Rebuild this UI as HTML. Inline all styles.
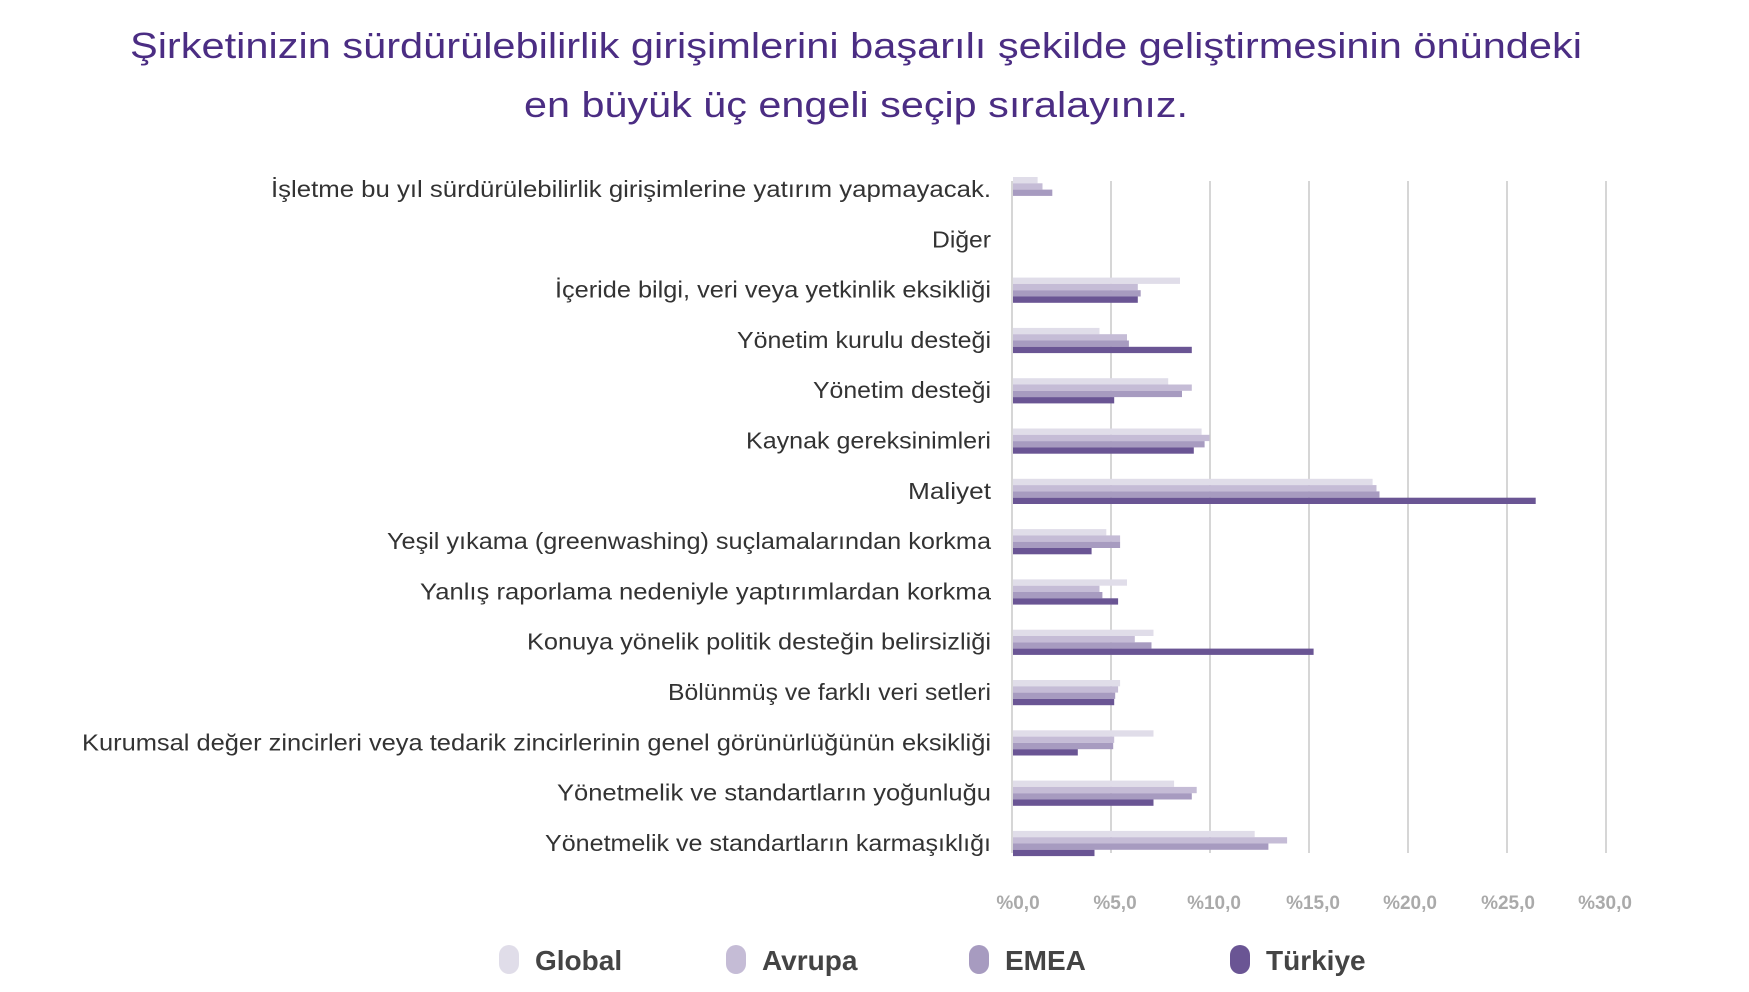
<!DOCTYPE html>
<html><head><meta charset="utf-8"><style>
html,body{margin:0;padding:0;background:#fff;}
svg{display:block;}
</style></head><body>
<svg width="1749" height="992" viewBox="0 0 1749 992" xmlns="http://www.w3.org/2000/svg" font-family="Liberation Sans, DejaVu Sans, sans-serif">
<text x="856" y="58" text-anchor="middle" font-size="36" fill="#4b2d83" textLength="1452" lengthAdjust="spacingAndGlyphs">Şirketinizin sürdürülebilirlik girişimlerini başarılı şekilde geliştirmesinin önündeki</text>
<text x="856" y="117" text-anchor="middle" font-size="36" fill="#4b2d83" textLength="664" lengthAdjust="spacingAndGlyphs">en büyük üç engeli seçip sıralayınız.</text>
<g stroke="#c8c8c8" stroke-width="1.5">
<line x1="1012" y1="181" x2="1012" y2="853"/>
<line x1="1111" y1="181" x2="1111" y2="853"/>
<line x1="1210" y1="181" x2="1210" y2="853"/>
<line x1="1309" y1="181" x2="1309" y2="853"/>
<line x1="1408" y1="181" x2="1408" y2="853"/>
<line x1="1507" y1="181" x2="1507" y2="853"/>
<line x1="1606" y1="181" x2="1606" y2="853"/>
</g>
<g id="bars"></g>
<g font-size="23" fill="#333" text-anchor="end" id="labels"></g>
<g font-size="19" font-weight="bold" fill="#aaa" text-anchor="middle">
<text x="1018" y="909">%0,0</text>
<text x="1115" y="909">%5,0</text>
<text x="1214" y="909">%10,0</text>
<text x="1313" y="909">%15,0</text>
<text x="1410" y="909">%20,0</text>
<text x="1508" y="909">%25,0</text>
<text x="1605" y="909">%30,0</text>
</g>
<g font-size="28" font-weight="bold" fill="#444">
<rect x="499" y="945" width="20" height="29" rx="10" fill="#e0dde9"/><text x="535" y="970">Global</text>
<rect x="726" y="945" width="20" height="29" rx="10" fill="#c5bcd6"/><text x="762" y="970">Avrupa</text>
<rect x="969" y="945" width="20" height="29" rx="10" fill="#a79bc0"/><text x="1005" y="970">EMEA</text>
<rect x="1230" y="945" width="20" height="29" rx="10" fill="#6a5594"/><text x="1266" y="970">Türkiye</text>
</g>
<script>
var d=[["İşletme bu yıl sürdürülebilirlik girişimlerine yatırım yapmayacak.",244,[1.25,1.5,2.0,0]],
["Diğer",834,[0,0,0,0]],
["İçeride bilgi, veri veya yetkinlik eksikliği",497,[8.5,6.35,6.5,6.35]],
["Yönetim kurulu desteği",660,[4.4,5.8,5.9,9.1]],
["Yönetim desteği",728,[7.9,9.1,8.6,5.15]],
["Kaynak gereksinimleri",668,[9.6,10.0,9.75,9.2]],
["Maliyet",813,[18.3,18.5,18.65,26.6]],
["Yeşil yıkama (greenwashing) suçlamalarından korkma",347,[4.75,5.45,5.45,4.0]],
["Yanlış raporlama nedeniyle yaptırımlardan korkma",377,[5.8,4.4,4.55,5.35]],
["Konuya yönelik politik desteğin belirsizliği",472,[7.15,6.2,7.05,15.3]],
["Bölünmüş ve farklı veri setleri",598,[5.45,5.35,5.2,5.15]],
["Kurumsal değer zincirleri veya tedarik zincirlerinin genel görünürlüğünün eksikliği",75,[7.15,5.15,5.1,3.3]],
["Yönetmelik ve standartların yoğunluğu",499,[8.2,9.35,9.1,7.15]],
["Yönetmelik ve standartların karmaşıklığı",488,[12.3,13.95,13.0,4.15]]];
var cols=["#e0dde9","#c5bcd6","#a79bc0","#6a5594"];
var NS="http://www.w3.org/2000/svg",b=document.getElementById("bars"),l=document.getElementById("labels");
d.forEach(function(r,i){var c=189+i*50.3;
 var t=document.createElementNS(NS,"text");t.setAttribute("x",991);t.setAttribute("y",c+8);
 t.setAttribute("textLength",((887-r[1])*1.119).toFixed(0));t.setAttribute("lengthAdjust","spacingAndGlyphs");
 t.textContent=r[0];l.appendChild(t);
 r[2].forEach(function(v,j){if(v<=0)return;var e=document.createElementNS(NS,"rect");
  e.setAttribute("x",1013);e.setAttribute("y",(c-12+j*6.3).toFixed(1));e.setAttribute("width",(v*19.65).toFixed(1));
  e.setAttribute("height",6.3);e.setAttribute("fill",cols[j]);b.appendChild(e);});
});
</script>
</svg>
</body></html>
